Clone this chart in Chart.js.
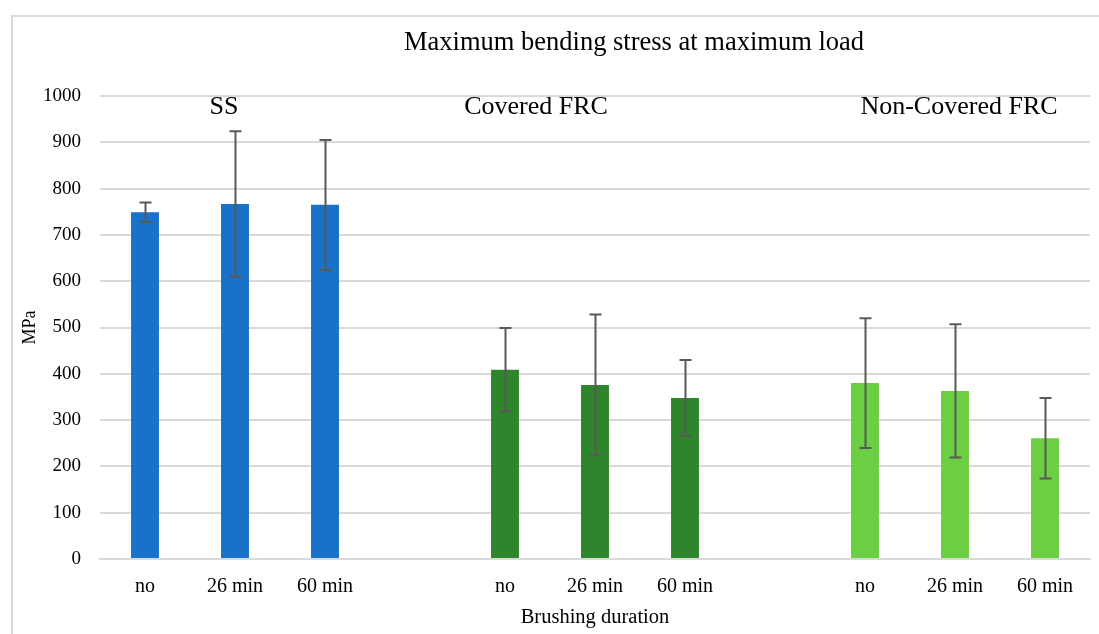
<!DOCTYPE html>
<html>
<head>
<meta charset="utf-8">
<script src="https://cdn.jsdelivr.net/npm/chart.js@4.4.1/dist/chart.umd.min.js"></script>
<style>
  html, body { margin: 0; padding: 0; background: #fff; }
  #wrap { position: relative; width: 1099px; height: 634px; }
  #frame { position: absolute; left: 11px; top: 15px; right: -10px; bottom: -10px; border: 2px solid #d9d9d9; box-sizing: border-box; pointer-events: none; }
</style>
</head>
<body>
<div id="wrap">
  <canvas id="c" width="1099" height="634"></canvas>
  <div id="frame"></div>
</div>
<script>
// categories (blank slots separate the three groups)
const categories = ['no', '26 min', '60 min', '', 'no', '26 min', '60 min', '', 'no', '26 min', '60 min'];
const groupNames = ['SS', 'Covered FRC', 'Non-Covered FRC'];

// mean values (MPa) per group: no, 26 min, 60 min
const ssMean = [749, 767, 765];
const coveredMean = [409, 376, 348];
const nonCoveredMean = [380, 363, 261];

// standard deviation (error bar half length)
const ssErr = [21, 157, 140];
const coveredErr = [90, 152, 82];
const nonCoveredErr = [140, 144, 87];

const yTicks = [0, 100, 200, 300, 400, 500, 600, 700, 800, 900, 1000];

const FONT = "'Liberation Serif', 'DejaVu Serif', serif";

// place a group's 3 values into the 11 slots
function slot(vals, start) {
  const out = categories.map(() => null);
  vals.forEach((v, i) => { out[start + i] = v; });
  return out;
}

const datasets = [
  { label: groupNames[0], data: slot(ssMean, 0), err: slot(ssErr, 0), backgroundColor: '#1971C9' },
  { label: groupNames[1], data: slot(coveredMean, 4), err: slot(coveredErr, 4), backgroundColor: '#2F852B' },
  { label: groupNames[2], data: slot(nonCoveredMean, 8), err: slot(nonCoveredErr, 8), backgroundColor: '#6CCF43' },
];

const errorBars = {
  id: 'errorBars',
  afterDatasetsDraw(chart) {
    const ctx = chart.ctx;
    const y = chart.scales.y;
    ctx.save();
    ctx.strokeStyle = '#595959';
    ctx.lineWidth = 2;
    chart.data.datasets.forEach((ds, di) => {
      const meta = chart.getDatasetMeta(di);
      meta.data.forEach((bar, i) => {
        const v = ds.data[i];
        const e = ds.err[i];
        if (v == null || e == null) return;
        const x = Math.round(bar.x) + 0.5;
        const yTop = y.getPixelForValue(v + e);
        const yBot = y.getPixelForValue(v - e);
        ctx.beginPath();
        ctx.moveTo(x, yTop); ctx.lineTo(x, yBot);
        ctx.moveTo(x - 6, yTop); ctx.lineTo(x + 6, yTop);
        ctx.moveTo(x - 6, yBot); ctx.lineTo(x + 6, yBot);
        ctx.stroke();
      });
    });
    ctx.restore();
  }
};

// chart title and the three group captions
const labels = {
  id: 'labels',
  afterDraw(chart) {
    const ctx = chart.ctx;
    const x = chart.scales.x;
    const area = chart.chartArea;
    ctx.save();
    ctx.fillStyle = '#000';
    ctx.textBaseline = 'middle';
    ctx.textAlign = 'center';
    ctx.font = '26.5px ' + FONT;
    ctx.fillText('Maximum bending stress at maximum load', 634, 43);
    ctx.font = '26px ' + FONT;
    const anchors = [x.getPixelForValue(1) - 11, x.getPixelForValue(4) + 31, x.getPixelForValue(9) + 4];
    groupNames.forEach((g, i) => ctx.fillText(g, anchors[i], area.top + 11));
    ctx.restore();
  }
};

new Chart(document.getElementById('c'), {
  type: 'bar',
  data: { labels: categories, datasets },
  plugins: [errorBars, labels],
  options: {
    responsive: false,
    animation: false,
    devicePixelRatio: 1,
    layout: { padding: { left: 11, top: 96, right: 9, bottom: 0 } },
    datasets: { bar: { skipNull: true, categoryPercentage: 1, barPercentage: 0.31 } },
    plugins: { legend: { display: false }, tooltip: { enabled: false } },
    scales: {
      x: {
        grid: { display: false, drawTicks: false },
        border: { display: true, color: '#d9d9d9', width: 2 },
        ticks: { color: '#000', font: { family: FONT, size: 20 }, padding: 16, maxRotation: 0, autoSkip: false },
        title: { display: true, text: 'Brushing duration', color: '#000', font: { family: FONT, size: 20.5 }, padding: { top: 6, bottom: 4 } },
        afterFit(s) { s.height = 75; }
      },
      y: {
        min: 0, max: 1000,
        afterBuildTicks(s) { s.ticks = yTicks.map((v) => ({ value: v })); },
        grid: { color: '#d9d9d9', lineWidth: 2, drawTicks: false },
        border: { display: false },
        ticks: { color: '#000', font: { family: FONT, size: 19 }, padding: 19, callback: (v) => String(v) },
        title: { display: true, text: 'MPa', color: '#000', font: { family: FONT, size: 18 }, padding: { top: 8, bottom: 0 } },
        afterFit(s) { s.width = 89; }
      }
    }
  }
});
</script>
</body>
</html>
